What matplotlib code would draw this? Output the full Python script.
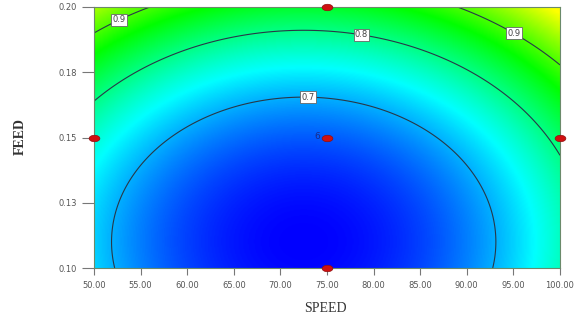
import numpy as np
import matplotlib
matplotlib.use("Agg")
import matplotlib.pyplot as plt
from matplotlib.colors import LinearSegmentedColormap
from matplotlib.path import Path

# ---- data ----
# fitted response-surface (quadratic) model coefficients
z_min = 0.612
speed_center = 72.5
feed_center = 0.11
speed_coef = 2.07e-4
feed_coef = 28.6

contour_levels = [0.7, 0.8, 0.9]
label_positions = [(52.5, 0.1966), (78.8, 0.1916), (73.0, 0.1667), (95.3, 0.1916)]

design_speed = [50, 75, 75, 75, 100]
design_feed = [0.15, 0.20, 0.15, 0.10, 0.15]
center_label = "6"

x_ticks = [50, 55, 60, 65, 70, 75, 80, 85, 90, 95, 100]
x_tick_labels = ["50.00", "55.00", "60.00", "65.00", "70.00", "75.00", "80.00",
                 "85.00", "90.00", "95.00", "100.00"]
y_ticks = [0.10, 0.125, 0.15, 0.175, 0.20]
y_tick_labels = ["0.10", "0.13", "0.15", "0.18", "0.20"]

# colour scale stops (response value -> colour)
cmap_stops = [0.612, 0.74, 0.866, 0.99]
cmap_colors = ["#0000ff", "#00ffff", "#00ff00", "#ffff00"]

# ---- figure ----
fig = plt.figure(figsize=(5.77, 3.2), dpi=100)
ax = fig.add_axes([94 / 577, 1 - 268 / 320, 466 / 577, 261 / 320])

sp = np.linspace(50, 100, 400)
fd = np.linspace(0.10, 0.20, 300)
S, F = np.meshgrid(sp, fd)
Z = z_min + speed_coef * (S - speed_center) ** 2 + feed_coef * (F - feed_center) ** 2

lo, hi = cmap_stops[0], cmap_stops[-1]
nodes = [(v - lo) / (hi - lo) for v in cmap_stops]
cmap = LinearSegmentedColormap.from_list("de", list(zip(nodes, cmap_colors)))

ax.imshow(Z, origin="lower", extent=[50, 100, 0.10, 0.20], aspect="auto",
          cmap=cmap, vmin=lo, vmax=hi, interpolation="bilinear")
cs = ax.contour(S, F, Z, levels=contour_levels, colors="#283848", linewidths=0.8)
texts = ax.clabel(cs, fmt="%.1f", manual=label_positions, inline=False, fontsize=6)
for t in texts:
    t.set_rotation(0)
    t.set_color("#444444")
    t.set_bbox(dict(boxstyle="square,pad=0.15", facecolor="white",
                    edgecolor="#666666", linewidth=0.6))

# elliptical design-point marker
theta = np.linspace(0, 2 * np.pi, 40)
ellipse = Path(np.column_stack([np.cos(theta), 0.6 * np.sin(theta)]), closed=True)
ax.scatter(design_speed, design_feed, s=60, marker=ellipse, color="#d01010",
           edgecolors="#901010", linewidths=0.5, zorder=5, clip_on=False)
ax.text(75 - 0.7, 0.1502, center_label, ha="right", va="center",
        fontsize=6.5, color="#1a2a8a", zorder=6)

ax.set_xlim(50, 100)
ax.set_ylim(0.10, 0.20)
ax.set_xticks(x_ticks)
ax.set_xticklabels(x_tick_labels)
ax.set_yticks(y_ticks)
ax.set_yticklabels(y_tick_labels)
ax.tick_params(axis="x", length=5, width=0.8, color="#777777", labelsize=6,
               labelcolor="#555555", pad=4)
ax.tick_params(axis="y", length=9, width=0.8, color="#777777", labelsize=6,
               labelcolor="#555555", pad=3)
for s in ax.spines.values():
    s.set_color("#6a8a6a")
    s.set_linewidth(0.8)

fig.text(325 / 577, 1 - 308 / 320, "SPEED", ha="center", va="center",
         family="Liberation Serif", fontsize=10, color="#333333")
fig.text(20 / 577, 1 - 137 / 320, "FEED", ha="center", va="center", rotation=90,
         family="Liberation Serif", fontsize=10, fontweight="bold", color="#333333")

fig.savefig("out.png", dpi=100)
